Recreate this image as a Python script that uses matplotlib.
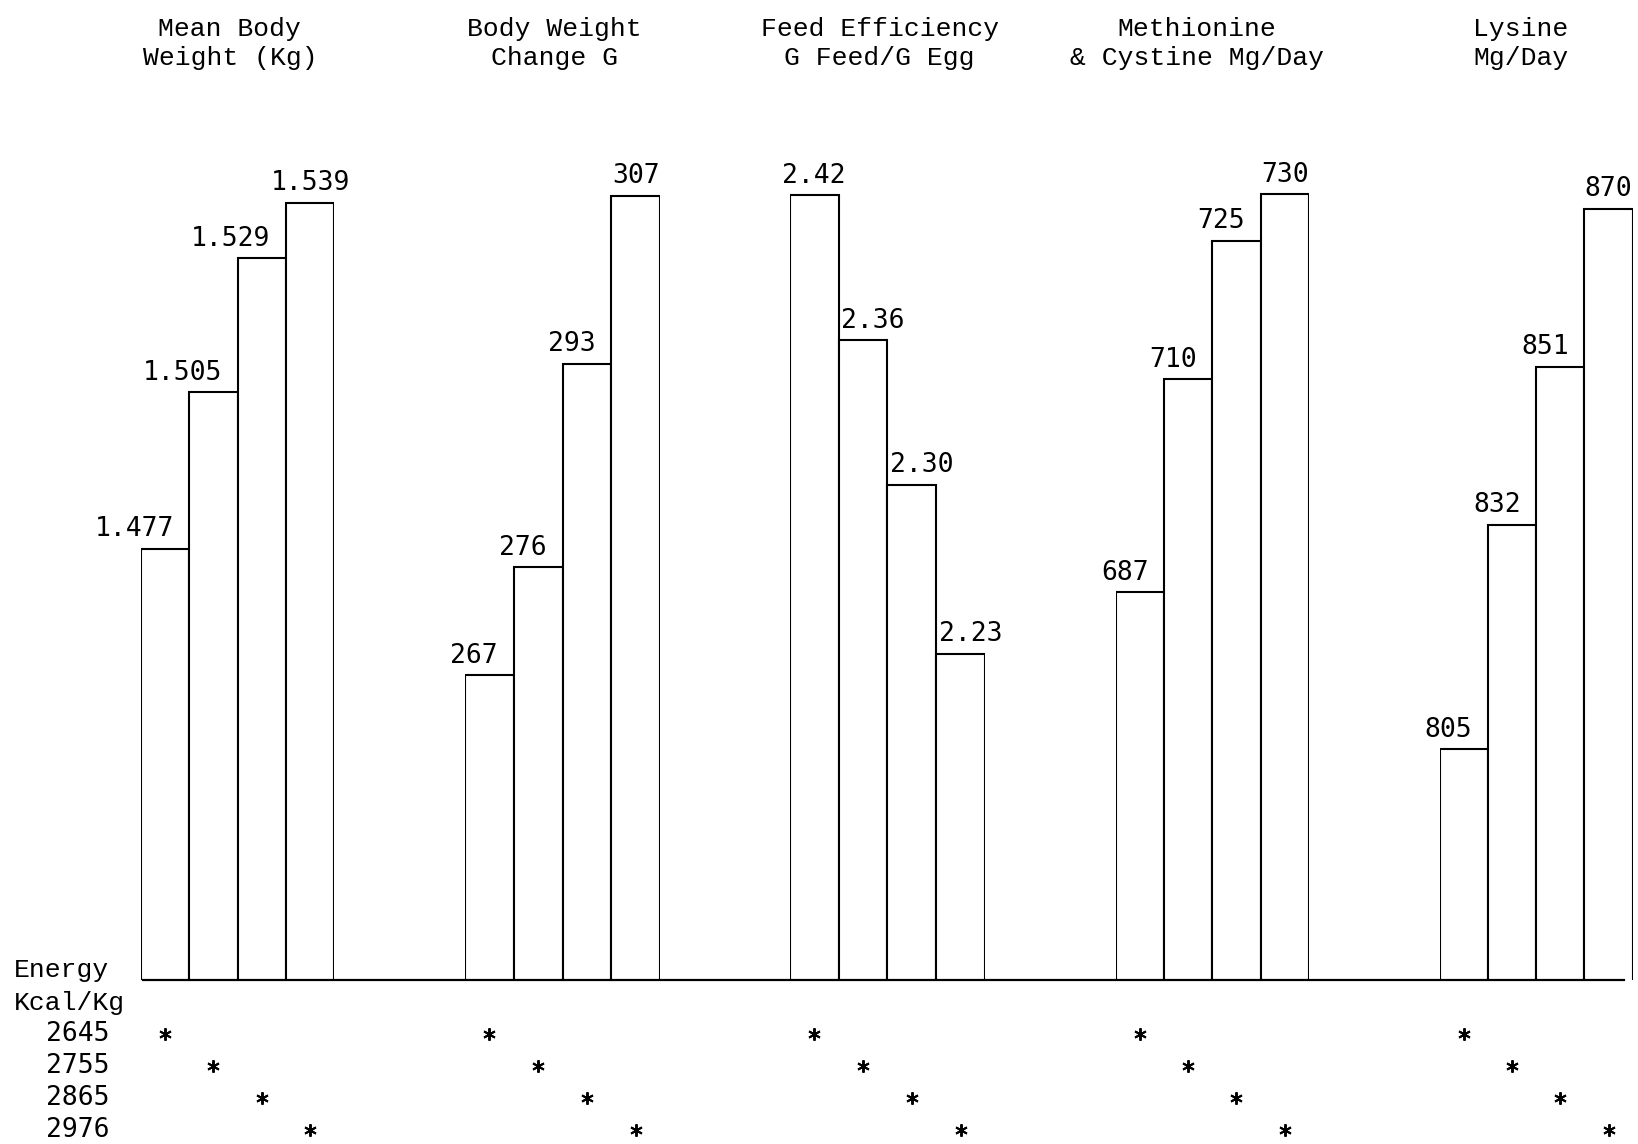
import matplotlib
matplotlib.use("Agg")
import matplotlib.pyplot as plt
import matplotlib.transforms as mtrans
from matplotlib.lines import Line2D

# data
titles = ["Mean Body\nWeight (Kg)", "Body Weight\nChange G", "Feed Efficiency\nG Feed/G Egg",
          "Methionine\n& Cystine Mg/Day", "Lysine\nMg/Day"]
mean_bw = [1.477, 1.505, 1.529, 1.539]
bw_change = [267, 276, 293, 307]
feed_eff = [2.42, 2.36, 2.30, 2.23]
met_cys = [687, 710, 725, 730]
lysine = [805, 832, 851, 870]
labels = [["1.477", "1.505", "1.529", "1.539"], ["267", "276", "293", "307"],
          ["2.42", "2.36", "2.30", "2.23"], ["687", "710", "725", "730"],
          ["805", "832", "851", "870"]]
energy = ["2645", "2755", "2865", "2976"]
series = [mean_bw, bw_change, feed_eff, met_cys, lysine]
# each panel has its own (unlabelled) scale in the original
ylims = [(1.3997, 1.5566), (241.6, 314.6), (2.095, 2.4576), (645.1, 739.7), (777.3, 882.5)]
title_x = [0.46, 0.46, 0.46, 0.42, 0.42]

W, H = 1638, 1144
fx = lambda px: px / W
fy = lambda py: 1 - py / H
SERIF = ["Liberation Mono", "DejaVu Sans Mono"]
SANS = ["DejaVu Sans Mono"]

fig = plt.figure(figsize=(16.38, 11.44), dpi=100)
fig.patch.set_facecolor("white")

edges = [(141.0, 334.3), (464.9, 660.2), (789.7, 985.1), (1115.7, 1308.9), (1439.5, 1632.8)]
base_y, top_y = 979.9, 104.5
row_y = [1034, 1066, 1098, 1130]

for k, (vals, lab, yl, (x0, x1)) in enumerate(zip(series, labels, ylims, edges)):
    ax = fig.add_axes([fx(x0), fy(base_y), fx(x1) - fx(x0), (base_y - top_y) / H])
    ax.set_facecolor("none")
    ax.bar(range(4), vals, width=1, align="edge", bottom=0, facecolor="white",
           edgecolor="black", linewidth=1.5)
    ax.set_xlim(0, 4)
    ax.set_ylim(*yl)
    ax.axis("off")
    for i, (v, t) in enumerate(zip(vals, lab)):
        # typed labels step away from the taller neighbour bar
        if i < 3 and vals[i + 1] > v:
            x, ha = i + 0.68, "right"
        elif i > 0 and vals[i - 1] > v:
            x, ha = i + 0.05, "left"
        else:
            x, ha = i + 0.5, "center"
        ax.annotate(t, (x, v), xytext=(0, 9), textcoords="offset points",
                    ha=ha, va="baseline", fontsize=19, family=SANS, annotation_clip=False)
    ax.text(title_x[k], fy(43.5), titles[k],
            transform=mtrans.blended_transform_factory(ax.transAxes, fig.transFigure),
            ha="center", va="center", fontsize=19, family=SERIF, linespacing=1.25)
    tr = mtrans.blended_transform_factory(ax.transData, fig.transFigure)
    for i in range(4):
        ax.plot(i + 0.5, fy(row_y[i]), marker=(6, 2, 0), markersize=9, markeredgewidth=1.4,
                color="black", transform=tr, clip_on=False)

fig.add_artist(Line2D([fx(143), fx(1624)], [fy(base_y), fy(base_y)], color="black", lw=1.6))

fig.text(fx(14), fy(970), "Energy", ha="left", va="center", fontsize=19, family=SERIF)
fig.text(fx(14), fy(1003), "Kcal/Kg", ha="left", va="center", fontsize=19, family=SERIF)
for e, y in zip(energy, row_y):
    fig.text(fx(110), fy(y), e, ha="right", va="center", fontsize=19, family=SANS)

fig.savefig("out.png", dpi=100, facecolor="white")
